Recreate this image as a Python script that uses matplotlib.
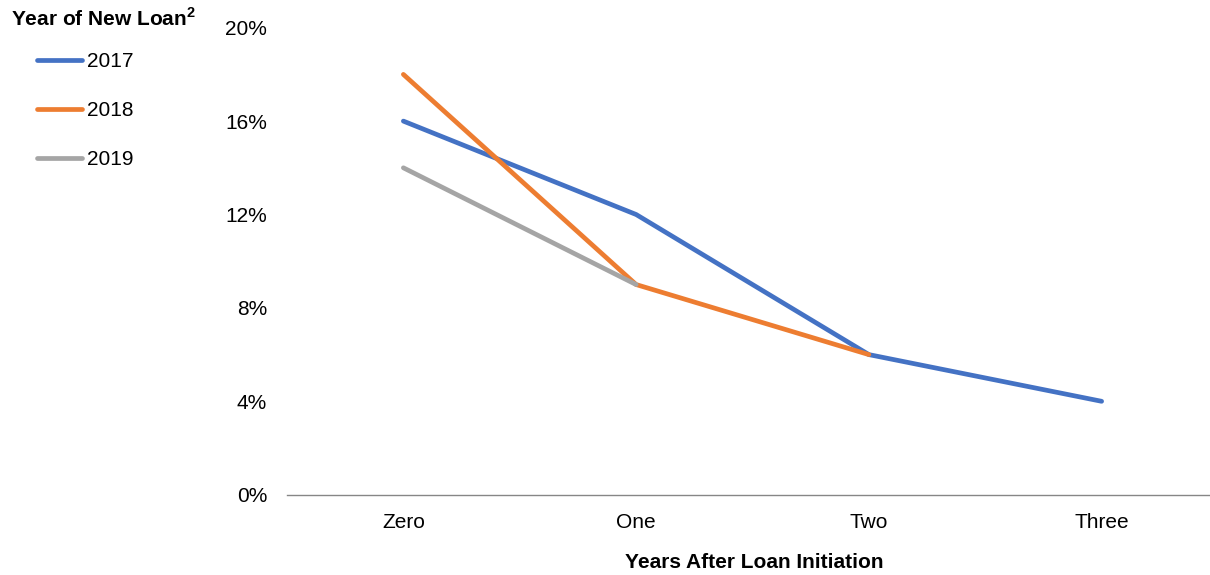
import numpy as np
import matplotlib.pyplot as plt
from matplotlib.lines import Line2D

plt.rcParams['font.family'] = ['Liberation Sans', 'DejaVu Sans']
plt.rcParams['mathtext.fontset'] = 'custom'
plt.rcParams['mathtext.bf'] = 'Liberation Sans:bold'
plt.rcParams['mathtext.rm'] = 'Liberation Sans'

# ---- data ----
categories = ["Zero", "One", "Two", "Three"]
years = ["2017", "2018", "2019"]
share_2017 = [16, 12, 6, 4]
share_2018 = [18, 9, 6]
share_2019 = [14, 9]
y_ticks = [0, 4, 8, 12, 16, 20]

colors = {"2017": "#4472C4", "2018": "#ED7D31", "2019": "#A5A5A5"}
series = {"2017": share_2017, "2018": share_2018, "2019": share_2019}

FS = 15
LW = 3.4
W, H = 1210, 575
fig = plt.figure(figsize=(W / 100, H / 100), dpi=100)
ax = fig.add_axes([287 / W, (H - 494.7) / H, (1218 - 287) / W, (494.7 - 27.7) / H])

x = np.arange(len(categories))
# later series are drawn on top (orange crosses over blue in the original)
for yr in years:
    vals = series[yr]
    ax.plot(x[:len(vals)], vals, color=colors[yr], linewidth=LW,
            solid_capstyle="round", solid_joinstyle="round", zorder=3)

ax.set_xlim(-0.5, 3.5)
ax.set_ylim(0, 20)
ax.set_xticks(x)
ax.set_xticklabels(categories, fontsize=FS)
ax.set_yticks(y_ticks)
ax.set_yticklabels([f"{v}%" for v in y_ticks], fontsize=FS)
ax.tick_params(axis="both", length=0)
ax.tick_params(axis="y", pad=14.4)
ax.tick_params(axis="x", pad=13)
for side in ["top", "right", "left"]:
    ax.spines[side].set_visible(False)
ax.spines["bottom"].set_color("#868686")
ax.spines["bottom"].set_linewidth(1.0)

fig.text(754 / W, 1 - 563 / H, "Years After Loan Initiation", fontsize=FS,
         fontweight="bold", ha="center", va="center")

fig.text(11 / W, 1 - 19 / H, r"Year of New Loan$^{\mathbf{2}}$", fontsize=FS,
         fontweight="bold", ha="left", va="center")

handles = [Line2D([], [], color=colors[yr], linewidth=LW, solid_capstyle="round")
           for yr in years]
fig.legend(handles, years, loc="upper left", bbox_to_anchor=(29 / W, 1 - 44 / H),
           frameon=False, fontsize=FS, handlelength=2.16, handletextpad=0.2,
           labelspacing=1.43, borderaxespad=0)

fig.savefig("out.png", dpi=100)
